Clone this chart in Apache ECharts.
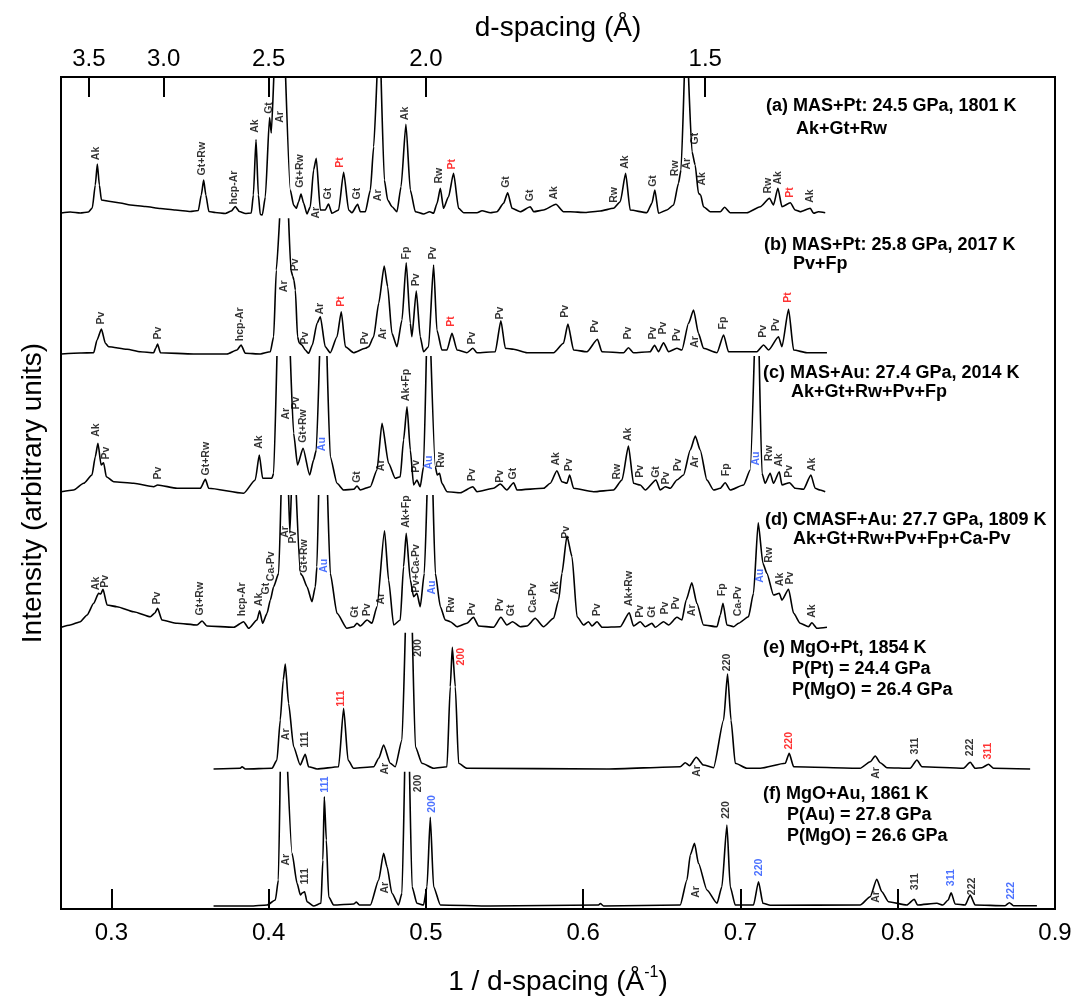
<!DOCTYPE html>
<html>
<head>
<meta charset="utf-8">
<script src="https://cdn.jsdelivr.net/npm/echarts@6/dist/echarts.min.js"></script>
<style>
  html, body { margin: 0; padding: 0; background: #fff; }
  #chart { width: 1089px; height: 997px; }
</style>
</head>
<body>
<div id="chart"></div>
<script>
// x: 1/d (1/A), y: intensity above each pattern's own baseline (arbitrary units)
var GAP = null; // trace leaves the panel (clipped peak)

var qTicks = [0.3, 0.4, 0.5, 0.6, 0.7, 0.8, 0.9];
var dTickLabels = ['3.5', '3.0', '2.5', '2.0', '1.5'];
var dTickQ = [0.2857, 0.3333, 0.4, 0.5, 0.6776];

var offsets = [697, 556, 417, 282, 140, 3];

var patternA = [[0.2682,-1],[0.2739,0],[0.2803,-1],[0.2854,0],[0.2879,4],[0.2898,27],[0.2911,48],[0.2924,27],[0.2937,12],[0.2994,10.5],[0.3057,9],[0.3121,7],[0.3216,5.5],[0.3312,3.5],[0.3407,2],[0.3502,0.5],[0.3553,1.5],[0.3572,17],[0.3587,32],[0.3601,17],[0.362,0.5],[0.3661,-0.5],[0.3725,-1.5],[0.3763,1],[0.3788,5.5],[0.3814,0.5],[0.3852,-1.5],[0.389,-1],[0.3903,17],[0.392,72.5],[0.3935,17],[0.3947,-2.5],[0.396,-3],[0.3979,15],[0.4006,94.5],[0.4017,79],[0.4033,135],GAP,[0.4108,135],[0.4138,22],[0.4159,7],[0.4176,3.7],[0.4191,10.3],[0.4206,18],[0.4223,8.7],[0.4244,-2],[0.4265,5.3],[0.4286,42],[0.4303,53.7],[0.4329,2],[0.436,2],[0.4381,8],[0.4403,-1.3],[0.4445,2],[0.4477,39.7],[0.4509,2],[0.453,-0.7],[0.4566,7.7],[0.4583,0.3],[0.4615,0.3],[0.4647,22],[0.4668,65.3],[0.4689,135],GAP,[0.4715,135],[0.4736,32],[0.4757,12],[0.4785,5.3],[0.4816,0.3],[0.4842,25.3],[0.4873,87.7],[0.4901,22],[0.4933,0.3],[0.4985,-2],[0.5024,0.3],[0.5049,-1.3],[0.5071,8.7],[0.5092,23.7],[0.5112,3.7],[0.5144,15.3],[0.5176,38.7],[0.5208,3.7],[0.524,-0.7],[0.5325,-0.7],[0.5357,1.3],[0.541,-0.7],[0.5452,0.3],[0.5494,8.7],[0.552,19.3],[0.5548,3.7],[0.56,0.3],[0.5664,5.3],[0.5685,0.3],[0.5748,2],[0.5827,7.7],[0.5875,0.3],[0.5918,0.3],[0.6013,-0.5],[0.6109,1],[0.6193,3.7],[0.6236,10.3],[0.627,38.7],[0.6299,2],[0.6405,-0.7],[0.6437,8.7],[0.6456,22],[0.6479,-1.3],[0.6532,2],[0.6575,7],[0.6606,28.7],[0.6622,42],[0.6643,135],GAP,[0.667,135],[0.6692,60.3],[0.6712,47],[0.6733,18.7],[0.6747,17],[0.6765,5.3],[0.6808,0.3],[0.6872,0.3],[0.6899,4.7],[0.6935,-0.7],[0.7041,-0.7],[0.7126,5.3],[0.7185,13.7],[0.721,7],[0.7238,23.7],[0.7264,5.3],[0.7317,9.3],[0.7348,2],[0.738,0.3],[0.7444,3.7],[0.7465,-1.3],[0.7496,0.3],[0.7539,-0.7]];

var patternB = [[0.2682,-1],[0.2803,0],[0.2888,0.3],[0.2909,13],[0.2937,24],[0.2962,9.7],[0.2983,6.3],[0.31,3.7],[0.3184,1.3],[0.3269,0.3],[0.3283,5],[0.3294,9],[0.3312,0.3],[0.3523,-1],[0.3736,-1],[0.3799,3],[0.3825,8],[0.3852,-0.3],[0.3947,-1],[0.4011,1.3],[0.4032,16.3],[0.4049,83],[0.407,134.7],GAP,[0.4127,134.7],[0.4142,83],[0.4153,77],[0.4161,73],[0.417,63],[0.4184,16.3],[0.4195,10],[0.4212,8],[0.4233,3],[0.4254,-0.3],[0.4278,8],[0.4308,29.7],[0.4329,36.3],[0.436,6.3],[0.4392,0.3],[0.4435,16.3],[0.4462,41.3],[0.4488,6.3],[0.454,0.3],[0.4615,4.7],[0.4636,6.3],[0.4668,16.3],[0.47,49.7],[0.4735,87],[0.4757,66.3],[0.4784,19.7],[0.4816,6.3],[0.4848,33],[0.4875,90.3],[0.4901,29.7],[0.4911,16.3],[0.4939,62],[0.4964,16.3],[0.4985,1.3],[0.5017,6.3],[0.5049,88],[0.507,23],[0.5102,3],[0.5134,3],[0.5166,19.7],[0.5198,3],[0.5261,0.3],[0.5299,4.7],[0.5325,0.3],[0.5441,1.3],[0.5477,32.3],[0.5505,4.7],[0.5558,3.7],[0.5643,0.3],[0.5812,0.3],[0.5875,9.7],[0.5903,29],[0.5939,3],[0.6024,1.3],[0.6091,13.7],[0.6119,1.3],[0.6257,0.3],[0.6288,5.3],[0.632,0.3],[0.6426,1.3],[0.6454,7.7],[0.6479,1.3],[0.6511,10.3],[0.6543,1.3],[0.6596,4.7],[0.6628,3],[0.667,29.7],[0.6702,43],[0.6733,19.7],[0.6765,4.7],[0.6851,0.3],[0.6893,18],[0.6924,1.3],[0.7105,1.3],[0.7147,8],[0.7179,3],[0.7242,16.3],[0.7264,6.3],[0.7306,43.7],[0.7338,3],[0.7423,0.3],[0.755,0.3]];

var patternC = [[0.2682,0.3],[0.276,2],[0.2824,8.7],[0.2877,17],[0.2898,35.3],[0.2915,48.7],[0.2935,27],[0.2951,29.3],[0.2968,15.3],[0.3015,10.3],[0.3142,8.7],[0.3269,5.3],[0.3294,7],[0.3418,3.7],[0.3566,3.7],[0.3598,12.7],[0.3619,3.7],[0.3841,-1.3],[0.3915,12],[0.3941,37],[0.3962,13.7],[0.4021,13.7],[0.4032,18.7],[0.4053,136],GAP,[0.4138,136],[0.4159,58.7],[0.4184,27],[0.4219,43.7],[0.4261,17],[0.4286,32],[0.4303,42],[0.4324,136],GAP,[0.4371,136],[0.4392,35.3],[0.4435,8.7],[0.4477,2],[0.4541,2.7],[0.4562,6],[0.4583,2],[0.4647,5.3],[0.4689,22],[0.4721,68.7],[0.4763,28.7],[0.4805,13.7],[0.4837,15.3],[0.4858,52],[0.488,85.3],[0.4901,42],[0.4922,7],[0.4943,12],[0.4964,5.3],[0.4985,25.3],[0.5003,136],GAP,[0.5032,136],[0.506,25.3],[0.5072,17],[0.5087,18.7],[0.5102,8.7],[0.5134,0.3],[0.5219,-0.7],[0.5299,5.3],[0.5325,0.3],[0.543,3.7],[0.5473,8],[0.5515,2],[0.5558,9.3],[0.5579,2],[0.5748,3.7],[0.5791,8.7],[0.5833,21.3],[0.5865,10.3],[0.5897,8.7],[0.5914,17],[0.5939,3.7],[0.6066,0.3],[0.6193,2],[0.6247,12],[0.6288,46],[0.632,8.7],[0.6363,7],[0.6395,2],[0.6463,12],[0.649,2],[0.6522,5.3],[0.6554,3.7],[0.6596,12],[0.6638,17],[0.6681,42],[0.6713,56],[0.6744,42],[0.6787,12],[0.6829,2],[0.6872,3.7],[0.6903,9.3],[0.6935,2],[0.702,7],[0.7062,22],[0.7088,136],GAP,[0.7119,136],[0.7137,18.7],[0.7157,8.7],[0.7189,18.7],[0.721,8.7],[0.7247,20.3],[0.7264,7],[0.7312,9.3],[0.7348,3.7],[0.7401,2.7],[0.7448,17],[0.7475,3.7],[0.7507,2],[0.7539,0.3]];

var patternD = [[0.2682,-0.3],[0.2739,2],[0.2803,5.3],[0.2846,12],[0.2888,23.7],[0.2919,33.7],[0.2933,33],[0.2947,37.7],[0.2973,22],[0.3036,20.3],[0.3142,15.3],[0.3248,10.3],[0.3277,14],[0.3294,18.7],[0.3322,7],[0.3418,3.7],[0.3545,2],[0.3577,6],[0.3608,1],[0.3778,-0.3],[0.3841,5.3],[0.3873,-1.3],[0.3926,7],[0.3943,16.3],[0.3962,3.7],[0.399,13.7],[0.4011,27],[0.4032,40.3],[0.4064,53.7],[0.4079,132],GAP,[0.4127,132],[0.4135,94],[0.4144,132],GAP,[0.4176,132],[0.4202,53.7],[0.4212,52],[0.4244,40.3],[0.4276,25.3],[0.4297,40.3],[0.4307,60.3],[0.4318,132],GAP,[0.4375,132],[0.4392,53.7],[0.4435,13.7],[0.4498,-1.3],[0.4541,0.3],[0.4562,3.7],[0.4583,1],[0.4626,7],[0.4657,3.7],[0.4689,20.3],[0.4737,96.3],[0.4763,47],[0.4795,2],[0.4837,7],[0.4858,60.3],[0.4875,93.7],[0.4901,47],[0.4922,30.3],[0.4943,33.7],[0.4964,20.3],[0.499,53.7],[0.5007,132],GAP,[0.5045,132],[0.506,53.7],[0.5092,20.3],[0.5123,7],[0.5155,5.3],[0.5198,0.3],[0.5261,3.7],[0.5303,9.7],[0.5335,1],[0.543,-0.3],[0.5477,9.7],[0.5515,2],[0.5551,5.3],[0.56,0.3],[0.5643,1],[0.5695,8.7],[0.5748,0.3],[0.5812,8.7],[0.5844,27],[0.5865,53.7],[0.5897,91],[0.5929,70.3],[0.5961,10.3],[0.6003,2],[0.6034,5.3],[0.6056,1],[0.6088,5.3],[0.612,-0.3],[0.6236,0.3],[0.6293,14.3],[0.632,1],[0.6363,5.3],[0.6395,0.3],[0.6437,3.7],[0.6458,-0.3],[0.6511,5.3],[0.6543,2],[0.6596,9.7],[0.6628,7],[0.6655,27],[0.6691,44.3],[0.6723,23.7],[0.6765,2],[0.6851,0.3],[0.6872,12],[0.6889,23.7],[0.6914,2],[0.6956,0.3],[0.6988,3.7],[0.7051,10.3],[0.7083,33.7],[0.7113,104.3],[0.7143,63.7],[0.7168,53.7],[0.721,32],[0.7247,33.7],[0.7264,27],[0.7306,37.7],[0.7338,13.7],[0.738,3.7],[0.7433,0.3],[0.7454,4.3],[0.7486,-1.3],[0.755,-0.3]];

var patternE = [[0.365,0],[0.382,0.7],[0.3831,2.3],[0.3852,0],[0.4022,0.7],[0.4053,9],[0.4074,49],[0.4093,89],[0.4106,105],[0.4127,65.7],[0.4159,22.3],[0.4201,4],[0.4233,14.7],[0.4254,2.3],[0.4308,0],[0.4445,2.3],[0.4477,60.7],[0.4505,9],[0.454,0.7],[0.4668,2.3],[0.4701,11],[0.4731,24],[0.4774,5.7],[0.4805,2.3],[0.4848,29],[0.4869,136.3],GAP,[0.4914,136.3],[0.4933,22.3],[0.4975,5.7],[0.5049,0.7],[0.5134,2.3],[0.5155,82.3],[0.5168,121.7],[0.5187,82.3],[0.5208,5.7],[0.5261,0.7],[0.6151,0],[0.6617,2.3],[0.6649,6.3],[0.6676,3.3],[0.6719,11.7],[0.6765,4],[0.6829,1.3],[0.6893,49],[0.6918,95],[0.694,49],[0.6967,5.7],[0.7041,0.7],[0.7126,0.7],[0.7285,5.7],[0.731,15.7],[0.7338,2.3],[0.7761,0.7],[0.7825,7.3],[0.7857,13],[0.7889,6.3],[0.7931,1.3],[0.8079,0.7],[0.8122,9],[0.8154,2.3],[0.8418,0.7],[0.8461,6.7],[0.8492,0.7],[0.8535,1.3],[0.8577,4.7],[0.8609,0.7],[0.8842,0]];

var patternF = [[0.365,0],[0.3884,0],[0.399,1],[0.4043,6],[0.4062,26],[0.4074,134.3],GAP,[0.4121,134.3],[0.4149,52.7],[0.4181,22.7],[0.4202,11],[0.4214,13],[0.4229,14.3],[0.4244,4.3],[0.4286,0],[0.4333,2.7],[0.4345,46],[0.4354,109.3],[0.4367,66],[0.4382,9.3],[0.4413,1],[0.4541,2],[0.4558,4],[0.4577,1],[0.4647,1],[0.47,26],[0.4731,52.7],[0.4753,39.3],[0.4784,12.7],[0.4826,1],[0.4848,12.7],[0.4865,134.3],GAP,[0.4896,134.3],[0.4912,19.3],[0.4943,2.7],[0.4985,1],[0.5007,19.3],[0.5028,88.7],[0.5049,19.3],[0.5092,1],[0.5409,0],[0.6098,1],[0.6109,2.5],[0.613,0],[0.6617,1],[0.666,26],[0.6681,51],[0.6708,62.7],[0.6733,42.7],[0.6787,16],[0.6851,2.7],[0.6882,19.3],[0.6914,81],[0.6935,19.3],[0.6967,1],[0.7083,1],[0.7115,24.3],[0.7143,2.7],[0.719,0.7],[0.7761,1],[0.7825,9.3],[0.7867,26.7],[0.7899,14.3],[0.7941,4.3],[0.8058,1],[0.8105,6.7],[0.8126,1],[0.8249,2.7],[0.8287,1],[0.8321,6],[0.834,13.3],[0.8365,2],[0.8429,1],[0.8461,11],[0.8492,1],[0.8683,0.3],[0.871,3.3],[0.8736,0.3],[0.8885,0.3]];

// peak labels: [1/d, height above baseline, text, standard]
var labelsA = [[0.2909,51.3,'Ak'],[0.3583,36,'Gt+Rw'],[0.3782,7,'hcp-Ar'],[0.3915,78.7,'Ak'],[0.4005,97.7,'Gt'],[0.4074,88.7,'Ar'],[0.4206,23.7,'Gt+Rw'],[0.4303,-7,'Ar'],[0.4381,12,'Gt'],[0.446,43.7,'Pt','Pt'],[0.4566,12,'Gt'],[0.4699,10.3,'Ar'],[0.4873,91.3,'Ak'],[0.5087,28,'Rw'],[0.5172,42,'Pt','Pt'],[0.5516,23.7,'Gt'],[0.5664,10.3,'Gt'],[0.5818,12,'Ak'],[0.6198,8.7,'Rw'],[0.6272,42.7,'Ak'],[0.6448,24.7,'Gt'],[0.6585,35.3,'Rw'],[0.6664,42,'Ar'],[0.6713,67,'Gt'],[0.6759,26,'Ak'],[0.7179,18,'Rw'],[0.7242,27,'Ak'],[0.7317,13.7,'Pt','Pt'],[0.7448,8.7,'Ak']];
var labelsB = [[0.2937,28,'Pv'],[0.33,13,'Pv'],[0.382,11.3,'hcp-Ar'],[0.41,60.3,'Ar'],[0.417,81.3,'Pv'],[0.4233,8,'Pv'],[0.4333,38,'Ar'],[0.4467,45.7,'Pt','Pt'],[0.4615,8,'Pv'],[0.4731,13,'Ar'],[0.488,93,'Fp'],[0.4943,66.3,'Pv'],[0.5049,93,'Pv'],[0.5166,25.7,'Pt','Pt'],[0.5299,8,'Pv'],[0.5473,33,'Pv'],[0.5886,34.7,'Pv'],[0.6077,19.7,'Pv'],[0.6289,13,'Pv'],[0.6448,13,'Pv'],[0.6511,18,'Pv'],[0.66,11.3,'Pv'],[0.6713,4.7,'Ar'],[0.6893,23,'Fp'],[0.7147,14.7,'Pv'],[0.7232,21.3,'Pv'],[0.7306,49.7,'Pt','Pt']];
var labelsC = [[0.2909,54.7,'Ak'],[0.2973,32,'Pv'],[0.33,12,'Pv'],[0.3608,16,'Gt+Rw'],[0.3943,42.7,'Ak'],[0.4117,72,'Ar'],[0.418,82,'Pv'],[0.4223,48.7,'Gt+Rw'],[0.4346,40.3,'Au','Au'],[0.4566,8.7,'Gt'],[0.4721,20.3,'Ar'],[0.488,90.3,'Ak+Fp'],[0.4943,18.7,'Pv'],[0.5024,22,'Au','Au'],[0.5102,23.7,'Rw'],[0.5299,10.3,'Pv'],[0.5473,8.7,'Pv'],[0.5558,12,'Gt'],[0.5829,26,'Ak'],[0.5914,20.3,'Pv'],[0.6219,12,'Rw'],[0.6289,50.3,'Ak'],[0.6363,13.7,'Pv'],[0.6469,13.7,'Gt'],[0.6528,7,'Pv'],[0.6606,20.3,'Pv'],[0.6713,23.7,'Ar'],[0.6914,15.3,'Fp'],[0.7105,26,'Au','Au'],[0.7185,30.3,'Rw'],[0.7249,24.7,'Ak'],[0.7312,13.7,'Pv'],[0.7458,20.3,'Ak']];
var labelsD = [[0.2905,36.3,'Ak'],[0.2962,38.7,'Pv'],[0.3294,22,'Pv'],[0.357,11,'Gt+Rw'],[0.3837,10.3,'hcp-Ar'],[0.3943,20.3,'Ak'],[0.399,32,'Gt'],[0.4017,45.3,'Ca-Pv'],[0.4108,88.7,'Ar'],[0.4159,83,'Pv'],[0.4227,53.7,'Gt+Rw'],[0.4354,53.7,'Au','Au'],[0.4551,8.7,'Gt'],[0.4629,10.3,'Pv'],[0.4721,22,'Ar'],[0.4875,98.7,'Ak+Fp'],[0.4943,33.7,'Pv+Ca-Pv'],[0.5045,32,'Au','Au'],[0.5166,13.7,'Rw'],[0.5299,11,'Pv'],[0.5473,15.3,'Pv'],[0.5547,10.3,'Gt'],[0.5685,13.7,'Ca-Pv'],[0.5823,32,'Ak'],[0.5897,87.7,'Pv'],[0.6091,10.3,'Pv'],[0.6295,20.3,'Ak+Rw'],[0.6363,8.7,'Pv'],[0.6444,8.7,'Gt'],[0.6522,12,'Pv'],[0.6596,17,'Pv'],[0.6695,10.3,'Ar'],[0.6889,30.3,'Fp'],[0.6988,10.3,'Ca-Pv'],[0.7126,43.7,'Au','Au'],[0.7185,63.7,'Rw'],[0.7253,40.3,'Ak'],[0.7317,42,'Pv'],[0.7458,8.7,'Ak']];
var labelsE = [[0.4113,28.3,'Ar'],[0.4233,20.7,'111'],[0.4467,61.7,'111','Pt'],[0.4742,-6,'Ar'],[0.4954,111.7,'200'],[0.5225,103,'200','Pt'],[0.6727,-8.3,'Ar'],[0.6918,97.3,'220'],[0.731,19,'220','Pt'],[0.7868,-10.3,'Ar'],[0.8111,14,'311'],[0.8461,12.3,'222'],[0.8577,9,'311','Pt']];
var labelsF = [[0.4117,40,'Ar'],[0.4233,21,'111'],[0.436,112.7,'111','Au'],[0.4742,12,'Ar'],[0.4954,113.3,'200'],[0.5043,92.7,'200','Au'],[0.6723,7.7,'Ar'],[0.691,86.7,'220'],[0.7121,29.3,'220','Au'],[0.7868,2.7,'Ar'],[0.8111,15.3,'311'],[0.834,19.3,'311','Au'],[0.8473,10.3,'222'],[0.8721,6,'222','Au']];

var sampleNotes = [
  ['(a) MAS+Pt: 24.5 GPa, 1801 K', 'Ak+Gt+Rw'],
  ['(b) MAS+Pt: 25.8 GPa, 2017 K', 'Pv+Fp'],
  ['(c) MAS+Au: 27.4 GPa, 2014 K', 'Ak+Gt+Rw+Pv+Fp'],
  ['(d) CMASF+Au: 27.7 GPa, 1809 K', 'Ak+Gt+Rw+Pv+Fp+Ca-Pv'],
  ['(e) MgO+Pt, 1854 K', 'P(Pt) = 24.4 GPa', 'P(MgO) = 26.4 GPa'],
  ['(f) MgO+Au, 1861 K', 'P(Au) = 27.8 GPa', 'P(MgO) = 26.6 GPa']
];

var patterns = [patternA, patternB, patternC, patternD, patternE, patternF];
var peakLabels = [labelsA, labelsB, labelsC, labelsD, labelsE, labelsF];

var FONT = '"Liberation Sans", Arial, Helvetica, sans-serif';
var stdColor = { Pt: '#ff0000', Au: '#1f4fff' };
var qMin = 0.268, qMax = 0.9;

var series = [];
patterns.forEach(function (pts, i) {
  series.push({
    type: 'line',
    data: pts.map(function (p) { return p ? [p[0], p[1] + offsets[i]] : ['-', '-']; }),
    showSymbol: false,
    connectNulls: false,
    smooth: 0.2,
    smoothMonotone: 'x',
    lineStyle: { color: '#000', width: 1.6 },
    silent: true,
    z: 3
  });
});
peakLabels.forEach(function (list, i) {
  series.push({
    type: 'scatter',
    symbolSize: 1,
    itemStyle: { color: 'rgba(0,0,0,0)' },
    silent: true,
    z: 5,
    data: list.map(function (l) {
      return {
        value: [l[0], l[1] + offsets[i]],
        name: l[2],
        label: { color: l[3] ? stdColor[l[3]] : '#000' }
      };
    }),
    label: {
      show: true,
      position: [0, 0],
      rotate: 90,
      align: 'left',
      verticalAlign: 'middle',
      fontSize: 10.5,
      fontWeight: 'bold',
      fontFamily: FONT,
      formatter: function (p) { return p.name; }
    }
  });
});

var notePos = [
  [[766, 106], [796, 129]],
  [[764, 245], [793, 264]],
  [[763, 373], [791, 392]],
  [[765, 520], [793, 539]],
  [[763, 648], [792, 669], [792, 690]],
  [[763, 794], [787, 815], [787, 836]]
];
var graphics = [];
sampleNotes.forEach(function (lines, i) {
  lines.forEach(function (t, j) {
    graphics.push({
      type: 'text',
      x: notePos[i][j][0],
      y: notePos[i][j][1],
      style: { text: t, fill: '#000', font: 'bold 18px ' + FONT, verticalAlign: 'middle' }
    });
  });
});

var chart = echarts.init(document.getElementById('chart'));
chart.setOption({
  animation: false,
  backgroundColor: '#fff',
  grid: {
    left: 61, right: 34, top: 77, bottom: 88,
    show: true, borderColor: '#000', borderWidth: 2,
    outerBoundsMode: 'none'
  },
  xAxis: [
    {
      type: 'value', position: 'bottom', min: qMin, max: qMax,
      axisLine: { show: false }, splitLine: { show: false },
      axisTick: { show: true, inside: true, length: 20, lineStyle: { color: '#000', width: 2 }, customValues: qTicks },
      axisLabel: { show: true, customValues: qTicks, fontSize: 24, fontFamily: FONT, color: '#000', margin: 12,
        formatter: function (v) { return v.toFixed(1); } },
      name: '1 / d-spacing (Å{sup|-1})', nameLocation: 'middle', nameGap: 56,
      nameTextStyle: { fontSize: 28, fontFamily: FONT, color: '#000', lineHeight: 34,
        rich: { sup: { fontSize: 16, fontFamily: FONT, color: '#000', lineHeight: 16, verticalAlign: 'top' } } }
    },
    {
      type: 'value', position: 'top', min: qMin, max: qMax,
      axisLine: { show: false }, splitLine: { show: false },
      axisTick: { show: true, inside: true, length: 20, lineStyle: { color: '#000', width: 2 }, customValues: dTickQ },
      axisLabel: { show: true, customValues: dTickQ, fontSize: 24, fontFamily: FONT, color: '#000', margin: 6,
        formatter: function (v) {
          var k = 0;
          dTickQ.forEach(function (q, j) { if (Math.abs(q - v) < Math.abs(dTickQ[k] - v)) k = j; });
          return dTickLabels[k];
        } },
      name: 'd-spacing (Å)', nameLocation: 'middle', nameGap: 32,
      nameTextStyle: { fontSize: 28, fontFamily: FONT, color: '#000' }
    }
  ],
  yAxis: {
    type: 'value', min: 0, max: 832,
    axisLine: { show: false }, axisTick: { show: false }, axisLabel: { show: false }, splitLine: { show: false },
    name: 'Intensity (arbitrary units)', nameLocation: 'middle', nameGap: 14,
    nameTextStyle: { fontSize: 28, fontFamily: FONT, color: '#000' }
  },
  graphic: graphics,
  series: series
});
window.onresize = function () { chart.resize(); };
</script>
</body>
</html>
